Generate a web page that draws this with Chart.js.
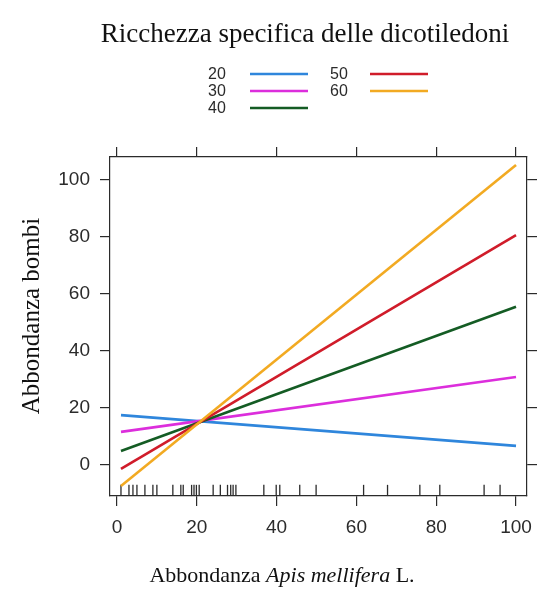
<!DOCTYPE html>
<html>
<head>
<meta charset="utf-8">
<script src="https://cdn.jsdelivr.net/npm/chart.js@4/dist/chart.umd.min.js"></script>
<style>
  html, body { margin: 0; padding: 0; background: #fff; }
  #chart { display: block; }
</style>
</head>
<body>
<canvas id="chart" width="546" height="590"></canvas>
<script>
// ==================== Dati ====================
const livelliRicchezza = ['20', '30', '40', '50', '60'];
const apisX = [1, 100];
const bombi20 = [17.5, 6.7];
const bombi30 = [11.6, 30.9];
const bombi40 = [4.9, 55.5];
const bombi50 = [-1.4, 80.7];
const bombi60 = [-7.4, 105.3];
const xTicks = [0, 20, 40, 60, 80, 100];
const yTicks = [0, 20, 40, 60, 80, 100];
// osservazioni di Apis (rug in basso)
const rugApis = [1, 3, 4, 5, 7, 9, 10, 14, 16, 16.6, 18.7, 19.3, 19.9, 20.6, 24.1, 25.9,
  27.7, 28.5, 29.1, 29.8, 36.8, 39.9, 40.8, 45.8, 49.9, 61.8, 67.8, 75.9, 80.9, 92, 96];

// ==================== Stile ====================
const colori = ['#2f86dc', '#dc2edc', '#145c24', '#d01c2a', '#f2aa22'];
const X_MIN = -1.75, X_MAX = 102.75;
const Y_MIN = -10.9, Y_MAX = 108.1;
const SANS = '"Liberation Sans", Arial, sans-serif';
const SERIF = '"Liberation Serif", "Times New Roman", serif';
const INK = '#2b2b2b';

const serieBombi = [bombi20, bombi30, bombi40, bombi50, bombi60];

const datasets = serieBombi.map((serie, i) => ({
  type: 'line',
  label: livelliRicchezza[i],
  data: apisX.map((x, j) => ({ x, y: serie[j] })),
  borderColor: colori[i],
  borderWidth: 2.6,
  pointRadius: 0,
  tension: 0,
  fill: false,
  order: 5 - i
}));

datasets.push({
  type: 'scatter',
  label: 'rug',
  data: rugApis.map(x => ({ x, y: Y_MIN + 1.95 })),
  pointStyle: 'line',
  rotation: 90,
  radius: 5.6,
  borderColor: INK,
  borderWidth: 1.3,
  backgroundColor: INK,
  clip: false,
  order: 10
});

function setTicks(vals) {
  return scale => { scale.ticks = vals.map(v => ({ value: v })); };
}

function asse(position, pos, vals, showLabels, size) {
  return {
    type: 'linear',
    position: pos,
    min: position === 'x' ? X_MIN : Y_MIN,
    max: position === 'x' ? X_MAX : Y_MAX,
    afterBuildTicks: setTicks(vals),
    afterFit: s => {
      if (position === 'x') s.height = size; else s.width = size;
    },
    grid: { drawOnChartArea: false, drawTicks: true, tickLength: 10, color: INK, lineWidth: 1.2 },
    border: { display: true, color: INK, width: 1.2 },
    ticks: { display: showLabels, padding: 10, color: INK, font: { family: SANS, size: 19 } }
  };
}

// ==================== Plugin: titoli e legenda ====================
const decorazioni = {
  id: 'decorazioni',
  afterDraw(chart) {
    const ctx = chart.ctx;
    ctx.save();
    ctx.fillStyle = '#111';

    // titolo in alto
    ctx.font = '27px ' + SERIF;
    ctx.textAlign = 'center';
    ctx.textBaseline = 'alphabetic';
    ctx.fillText('Ricchezza specifica delle dicotiledoni', 305, 42);

    // legenda (colonne: 20,30,40 | 50,60)
    ctx.font = '16px ' + SANS;
    ctx.textAlign = 'left';
    ctx.textBaseline = 'middle';
    const colonne = [{ tx: 208, lx: 250 }, { tx: 330, lx: 370 }];
    const righe = [74, 91, 108];
    chart.data.datasets.forEach((ds, i) => {
      if (ds.type !== 'line') return;
      const c = colonne[Math.floor(i / 3)];
      const y = righe[i % 3];
      ctx.fillStyle = INK;
      ctx.fillText(ds.label, c.tx, y + 1);
      ctx.strokeStyle = ds.borderColor;
      ctx.lineWidth = 2.6;
      ctx.beginPath();
      ctx.moveTo(c.lx, y);
      ctx.lineTo(c.lx + 58, y);
      ctx.stroke();
    });

    // titolo asse x (con corsivo)
    ctx.fillStyle = '#111';
    ctx.textBaseline = 'alphabetic';
    ctx.textAlign = 'left';
    const parti = [
      { t: 'Abbondanza ', f: '22px ' + SERIF },
      { t: 'Apis mellifera', f: 'italic 22px ' + SERIF },
      { t: ' L.', f: '22px ' + SERIF }
    ];
    let tot = 0;
    parti.forEach(p => { ctx.font = p.f; p.w = ctx.measureText(p.t).width; tot += p.w; });
    let x = 282 - tot / 2;
    parti.forEach(p => { ctx.font = p.f; ctx.fillText(p.t, x, 582); x += p.w; });

    // titolo asse y
    ctx.translate(39, 316);
    ctx.rotate(-Math.PI / 2);
    ctx.textAlign = 'center';
    ctx.font = '25px ' + SERIF;
    ctx.fillText('Abbondanza bombi', 0, 0);
    ctx.restore();
  }
};

// ==================== Init ====================
new Chart(document.getElementById('chart').getContext('2d'), {
  data: { datasets },
  options: {
    responsive: false,
    animation: false,
    layout: { padding: { top: 147, left: 0, right: 0, bottom: 0 } },
    plugins: { legend: { display: false }, tooltip: { enabled: false }, title: { display: false } },
    scales: {
      x: asse('x', 'bottom', xTicks, true, 94),
      x2: asse('x', 'top', xTicks, false, 10),
      y: asse('y', 'left', yTicks, true, 110),
      y2: asse('y', 'right', yTicks, false, 19)
    }
  },
  plugins: [decorazioni]
});
</script>
</body>
</html>
